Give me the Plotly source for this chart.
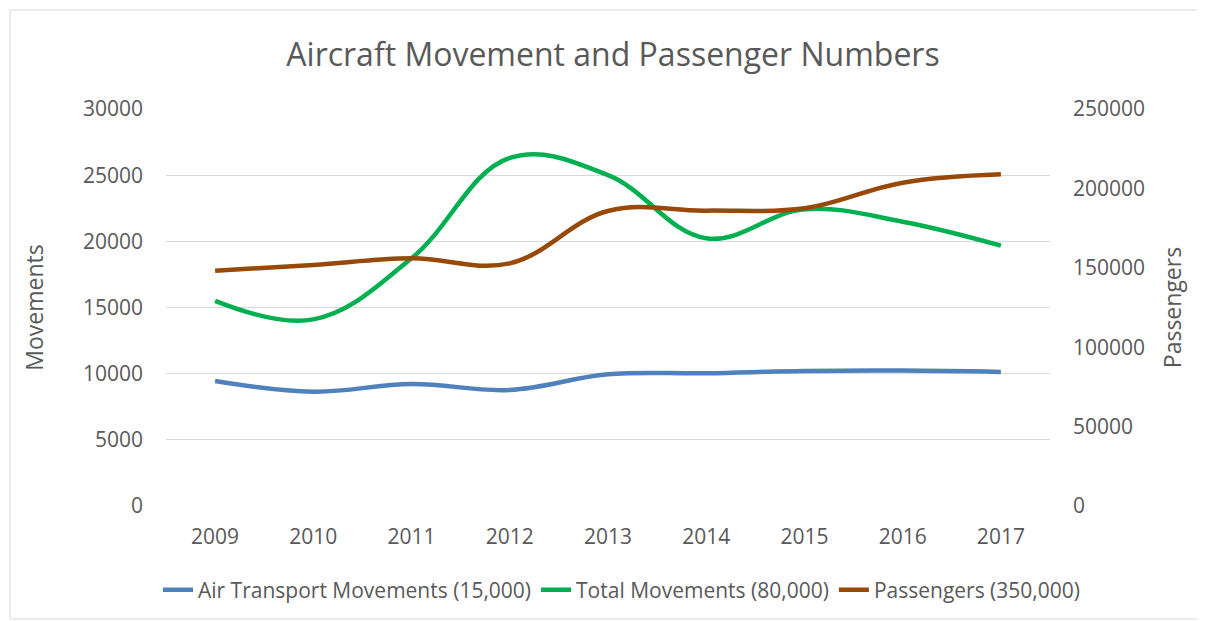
import plotly.graph_objects as go

years = ["2009", "2010", "2011", "2012", "2013", "2014", "2015", "2016", "2017"]
air_transport = [9450, 8640, 9220, 8770, 9950, 10030, 10200, 10230, 10130]
total_movements = [15500, 14100, 18720, 26300, 25000, 20230, 22420, 21480, 19670]
passengers = [148200, 151800, 156000, 152800, 185800, 186000, 187500, 203600, 208900]

names = ["Air Transport Movements (15,000)", "Total Movements (80,000)", "Passengers (350,000)"]
colors = ["#4F81BD", "#00B050", "#984807"]

FONT = "Open Sans"
GRAY = "#595959"

# figure is placed 8px in from the page edge (body margin)
W, H = 1197, 613
L, T, R, B = 158, 101, 155, 115
PW, PH = W - L - R, H - T - B

fig = go.Figure()
for vals, name, col, ax in [(air_transport, names[0], colors[0], "y"),
                            (total_movements, names[1], colors[1], "y"),
                            (passengers, names[2], colors[2], "y2")]:
    fig.add_trace(go.Scatter(x=years, y=vals, name=name, mode="lines", yaxis=ax,
                             line=dict(color=col, width=4.5, shape="spline", smoothing=1.1)))

fig.update_layout(
    width=W, height=H,
    paper_bgcolor="white", plot_bgcolor="white",
    margin=dict(l=L, r=R, t=T, b=B, autoexpand=False),
    font=dict(family=FONT, color=GRAY, size=21),
    title=dict(text="Aircraft Movement and Passenger Numbers", x=605 / W, xref="container",
               xanchor="center", y=1 - 47 / H, yref="container", yanchor="middle",
               font=dict(family=FONT, size=32, color=GRAY)),
    xaxis=dict(type="category", range=[-0.5, 8.5], showgrid=False, zeroline=False,
               showline=False, ticks="", ticklabelstandoff=16,
               tickfont=dict(size=21, color=GRAY)),
    yaxis=dict(range=[0, 30000], dtick=5000, showgrid=True, gridcolor="#D9D9D9", gridwidth=1.3,
               zeroline=False, showline=False, ticks="", ticklabelstandoff=22,
               tickformat="d", tickfont=dict(size=21, color=GRAY),
               title=dict(text="Movements", font=dict(size=23, color=GRAY), standoff=32)),
    yaxis2=dict(range=[0, 250000], dtick=50000, overlaying="y", side="right", showgrid=False,
                zeroline=False, showline=False, ticks="", ticklabelstandoff=22,
                tickformat="d", tickfont=dict(size=21, color=GRAY),
                title=dict(text="Passengers", font=dict(size=23, color=GRAY), standoff=20)),
    legend=dict(orientation="h", x=(150 - L) / PW, xanchor="left",
                y=(498 - 582) / PH, yanchor="middle",
                bgcolor="rgba(0,0,0,0)",
                font=dict(size=21, color=GRAY), itemwidth=30, traceorder="normal"),
    shapes=[dict(type="rect", xref="paper", yref="paper",
                 x0=(2 - L) / PW, x1=(1194 - L) / PW,
                 y0=(498 - 611) / PH, y1=(498 - 2) / PH,
                 line=dict(color="#D9D9D9", width=1), fillcolor="rgba(0,0,0,0)", layer="below")],
)

fig.write_html("out.html")
